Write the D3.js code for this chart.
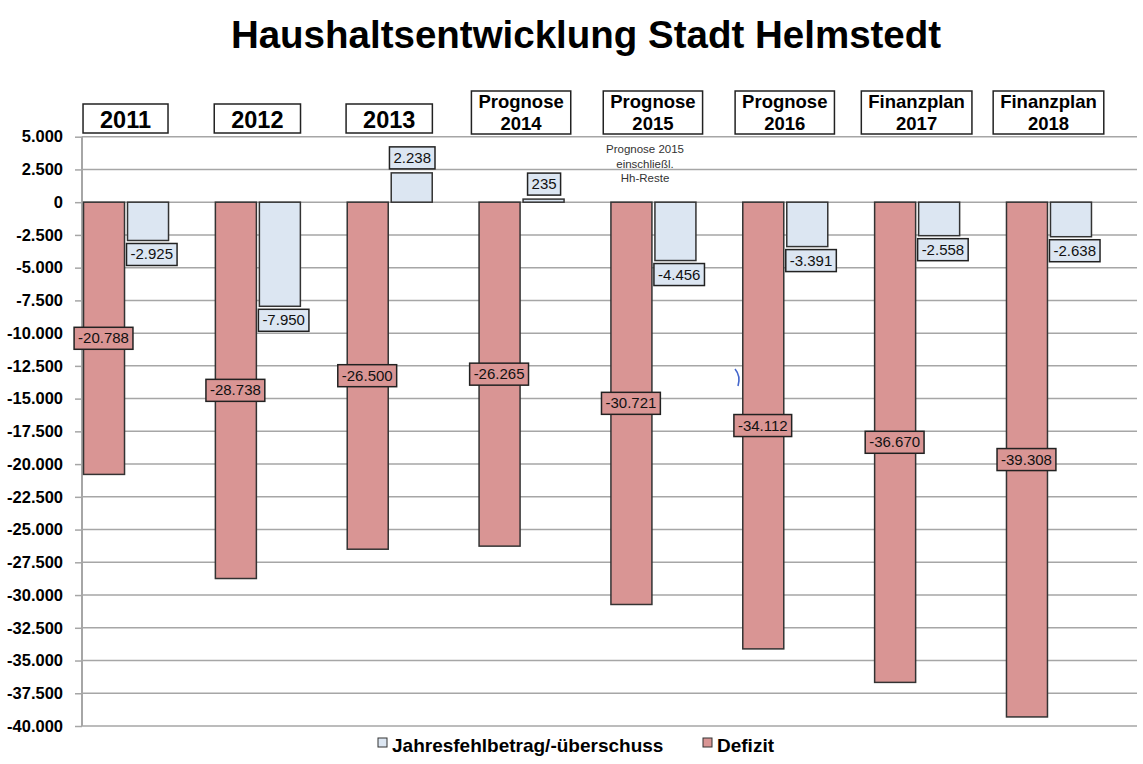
<!DOCTYPE html>
<meta charset="utf-8">
<style>
    body { margin: 0; background: #fff; }
    svg { font-family: "Liberation Sans", Arial, sans-serif; }
</style>
<script src="https://cdn.jsdelivr.net/npm/d3@7"></script>
<body>
<svg></svg>
</body>
<script>

    var categories = ["2011", "2012", "2013", "Prognose 2014", "Prognose 2015", "Prognose 2016", "Finanzplan 2017", "Finanzplan 2018"];
    var defizit = [-20788, -28738, -26500, -26265, -30721, -34112, -36670, -39308];
    var jahres = [-2925, -7950, 2238, 235, -4456, -3391, -2558, -2638];
    var yTicks = [5000, 2500, 0, -2500, -5000, -7500, -10000, -12500, -15000, -17500, -20000, -22500, -25000, -27500, -30000, -32500, -35000, -37500, -40000];
    var seriesNames = ["Jahresfehlbetrag/-überschuss", "Defizit"];
    var note = ["Prognose 2015", "einschließl.", "Hh-Reste"];

    var W = 1143, H = 764;
    var red = "#d99594", blue = "#dce6f2";
    var de = d3.formatLocale({decimal: ",", thousands: ".", grouping: [3], currency: ["", "€"], minus: "-"});
    var fmt = de.format(",d");

    var svg = d3.select('svg').attr('width', W).attr('height', H);

    var y = d3.scaleLinear().domain([-40000, 5000]).range([726, 136.7]);
    var x = d3.scaleBand().domain(categories).range([59.6, 59.6 + 8 * 131.85]);
    var cx = function (d) { return x(d) + x.bandwidth() / 2; };
    var axisX = 82, right = 1137;

    // title
    svg.append('text')
        .attr('x', 586).attr('y', 48)
        .attr('text-anchor', 'middle')
        .style('font-size', '38.5px').style('font-weight', 'bold')
        .text('Haushaltsentwicklung Stadt Helmstedt');

    // grid
    svg.append('g').selectAll('line').data(yTicks).join('line')
        .attr('x1', axisX).attr('x2', right)
        .attr('y1', function (d) { return y(d); }).attr('y2', function (d) { return y(d); })
        .attr('stroke', '#a6a6a6').attr('stroke-width', 1.5);

    // y axis
    var ax = svg.append('g').attr('transform', 'translate(' + axisX + ',0)')
        .call(d3.axisLeft(y).tickValues(yTicks).tickFormat(fmt).tickSize(7).tickPadding(12));
    ax.select('.domain').attr('stroke', '#a6a6a6').attr('stroke-width', 2).attr('d', 'M0,' + y(5000) + 'V' + y(-40000));
    ax.selectAll('.tick line').attr('stroke', '#a6a6a6').attr('stroke-width', 1.5);
    ax.selectAll('.tick text').style('font-size', '16.5px').style('font-weight', 'bold').attr('fill', '#000')
        .attr('font-family', '"Liberation Sans", Arial, sans-serif');

    var barW = 41;
    var rows = categories.map(function (c, i) { return {c: c, def: defizit[i], jah: jahres[i]}; });

    // bars
    svg.append('g').selectAll('rect').data(rows).join('rect')
        .attr('x', function (d) { return cx(d.c) - 42; })
        .attr('y', y(0))
        .attr('width', barW)
        .attr('height', function (d) { return y(d.def) - y(0); })
        .attr('fill', red).attr('stroke', '#333').attr('stroke-width', 1.5);

    svg.append('g').selectAll('rect').data(rows).join('rect')
        .attr('x', function (d) { return cx(d.c) + 2; })
        .attr('y', function (d) { return y(Math.max(0, d.jah)); })
        .attr('width', barW)
        .attr('height', function (d) { return Math.abs(y(d.jah) - y(0)); })
        .attr('fill', blue).attr('stroke', '#333').attr('stroke-width', 1.5);

    // label box helper
    function labelBox(xc, yc, txt, fill, anchorLeft) {
        var g = svg.append('g');
        var t = g.append('text').attr('y', yc + 5).style('font-size', '15px').attr('fill', '#111').text(txt);
        var w = t.node().getComputedTextLength() + 8;
        var left = anchorLeft ? xc : xc - w / 2;
        t.attr('x', left + 4);
        g.insert('rect', 'text')
            .attr('x', left).attr('y', yc - 11).attr('width', w).attr('height', 22)
            .attr('fill', fill).attr('stroke', '#222').attr('stroke-width', 1.5);
    }

    rows.forEach(function (d) {
        labelBox(cx(d.c) - 22, (y(0) + y(d.def)) / 2, fmt(d.def), red, false);
        if (d.jah >= 0) {
            labelBox(cx(d.c) + 23, y(d.jah) - 15, fmt(d.jah), blue, false);
        } else {
            labelBox(cx(d.c) + 1, y(d.jah) + 14, fmt(d.jah), blue, true);
        }
    });

    // category boxes at top
    rows.forEach(function (d, i) {
        var parts = d.c.split(' ');
        var g = svg.append('g');
        var xc = cx(d.c);
        if (parts.length === 1) {
            var t = g.append('text').attr('x', xc).attr('y', 128).attr('text-anchor', 'middle')
                .style('font-size', '23.5px').style('font-weight', 'bold').text(d.c);
            var w = t.node().getComputedTextLength() + 34;
            g.insert('rect', 'text').attr('x', xc - w / 2).attr('y', 104).attr('width', w).attr('height', 29)
                .attr('fill', '#fff').attr('stroke', '#222').attr('stroke-width', 1.5);
        } else {
            var t1 = g.append('text').attr('x', xc).attr('y', 108).attr('text-anchor', 'middle')
                .style('font-size', '18.5px').style('font-weight', 'bold').text(parts[0]);
            g.append('text').attr('x', xc).attr('y', 130).attr('text-anchor', 'middle')
                .style('font-size', '18.5px').style('font-weight', 'bold').text(parts[1]);
            var w2 = t1.node().getComputedTextLength() + 14;
            g.insert('rect', 'text').attr('x', xc - w2 / 2).attr('y', 91).attr('width', w2).attr('height', 43)
                .attr('fill', '#fff').attr('stroke', '#222').attr('stroke-width', 1.5);
        }
    });

    // note under Prognose 2015
    svg.append('g').selectAll('text').data(note).join('text')
        .attr('x', 645).attr('y', function (d, i) { return 153 + i * 14.5; })
        .attr('text-anchor', 'middle').style('font-size', '11.5px').attr('fill', '#333')
        .text(function (d) { return d; });

    // stray pen mark
    svg.append('path').attr('d', 'M735,369 Q741,376 738,386')
        .attr('fill', 'none').attr('stroke', '#4466cc').attr('stroke-width', 1.6);

    // legend
    var lg = svg.append('g');
    var legendItems = [{name: seriesNames[0], fill: blue, x: 378}, {name: seriesNames[1], fill: red, x: 703}];
    legendItems.forEach(function (it) {
        lg.append('rect').attr('x', it.x).attr('y', 738).attr('width', 9).attr('height', 9)
            .attr('fill', it.fill).attr('stroke', '#333').attr('stroke-width', 1);
        lg.append('text').attr('x', it.x + 14).attr('y', 752)
            .style('font-size', '19px').style('font-weight', 'bold').text(it.name);
    });

</script>
</html>
